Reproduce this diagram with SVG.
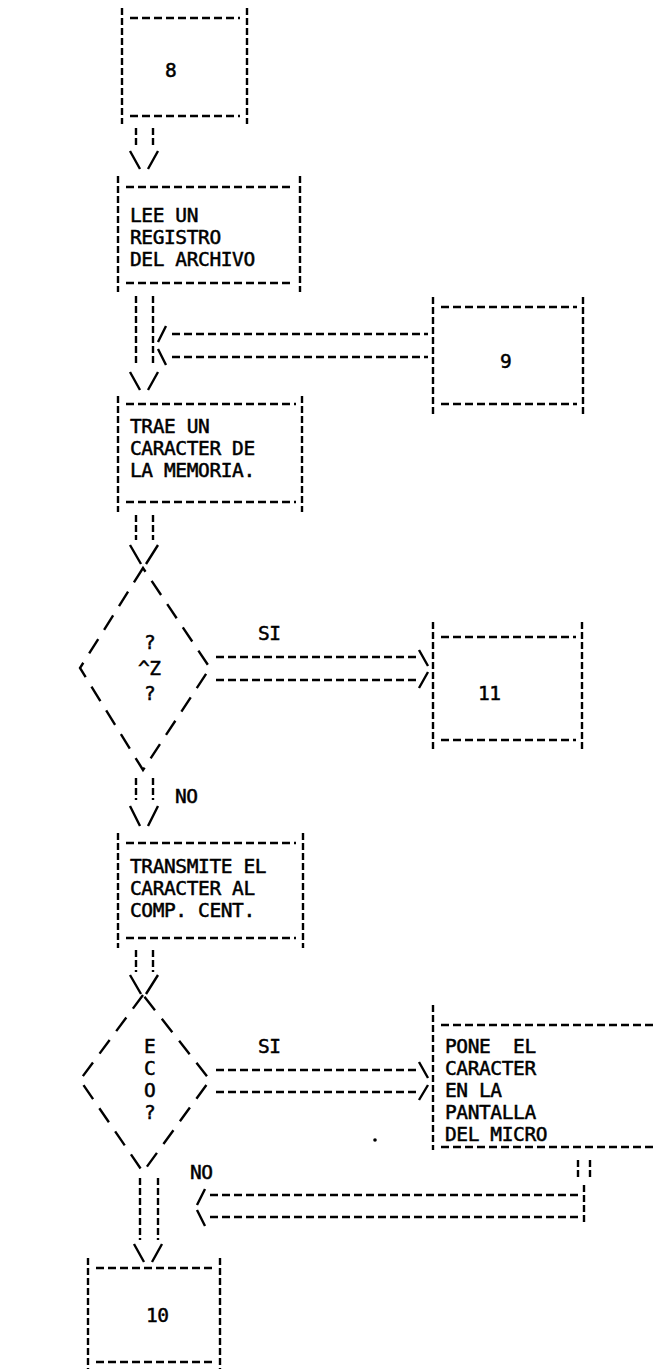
<svg xmlns="http://www.w3.org/2000/svg" width="654" height="1369" viewBox="0 0 654 1369">
<style>
.h{stroke:#000;stroke-width:2.4;fill:none;stroke-dasharray:8 4}
.v{stroke:#000;stroke-width:2.4;fill:none;stroke-dasharray:7 3}
.s{stroke:#000;stroke-width:2.4;fill:none}
.dm{stroke:#000;stroke-width:2.4;fill:none;stroke-dasharray:17 11}
.t{font-family:"DejaVu Sans Mono","Liberation Mono",monospace;font-size:19.5px;fill:#000;stroke:#000;stroke-width:0.5;letter-spacing:-0.4px}
</style>
<rect width="654" height="1369" fill="#fff"/>
<g id="n8">
<path class="v" d="M122 8V124M247 8V124"/><path class="h" d="M130 18H240M130 116H240"/>
<text class="t" x="165" y="77">8</text>
</g>
<g id="nLee">
<path class="v" d="M118 176V292M300 176V292"/><path class="h" d="M126 187H294M126 283H294"/>
<text class="t" x="130" y="222">LEE UN</text>
<text class="t" x="130" y="244">REGISTRO</text>
<text class="t" x="130" y="266">DEL ARCHIVO</text>
</g>
<g id="n9">
<path class="v" d="M433 297V415M583 297V415"/><path class="h" d="M441 307H577M441 404H577"/>
<text class="t" x="500" y="368">9</text>
</g>
<g id="nTrae">
<path class="v" d="M118 396V512M302 396V512"/><path class="h" d="M126 404H296M126 502H296"/>
<text class="t" x="130" y="433">TRAE UN</text>
<text class="t" x="130" y="455">CARACTER DE</text>
<text class="t" x="130" y="477">LA MEMORIA.</text>
</g>
<g id="dZ">
<path class="dm" d="M143 568L80 668L143 770L210 668Z"/>
<text class="t" x="144" y="649">?</text>
<text class="t" x="138" y="675">^Z</text>
<text class="t" x="144" y="700">?</text>
</g>
<g id="n11">
<path class="v" d="M433 622V750M582 622V750"/><path class="h" d="M441 637H576M441 740H576"/>
<text class="t" x="478" y="700">11</text>
</g>
<g id="nTrans">
<path class="v" d="M118 833V948M303 833V948"/><path class="h" d="M126 843H296M126 938H296"/>
<text class="t" x="130" y="873">TRANSMITE EL</text>
<text class="t" x="130" y="895">CARACTER AL</text>
<text class="t" x="130" y="917">COMP. CENT.</text>
</g>
<g id="dEco">
<path class="dm" d="M143 995L80 1080L143 1172L210 1080Z"/>
<text class="t" x="144" y="1053">E</text>
<text class="t" x="144" y="1075">C</text>
<text class="t" x="144" y="1097">O</text>
<text class="t" x="144" y="1119">?</text>
</g>
<g id="nPone">
<path class="v" d="M433 1005V1150"/><path class="h" d="M441 1025H654M441 1147H654"/>
<text class="t" x="445" y="1053" xml:space="preserve">PONE  EL</text>
<text class="t" x="445" y="1075">CARACTER</text>
<text class="t" x="445" y="1097">EN LA</text>
<text class="t" x="445" y="1119">PANTALLA</text>
<text class="t" x="445" y="1141">DEL MICRO</text>
</g>
<g id="n10">
<path class="v" d="M88 1258V1369M220 1258V1369"/><path class="h" d="M96 1268H214M96 1362H214"/>
<text class="t" x="146" y="1322">10</text>
</g>
<g id="connectors">
<path class="v" d="M136 128V146M153 128V146"/><path class="s" d="M130 151L140 169M158 151L148 169"/>
<path class="v" d="M136 296V366M153 296V366"/><path class="s" d="M130 372L140 390M158 372L148 390"/>
<path class="s" d="M158 342L166 326M158 349L166 365"/><path class="h" d="M172 334H428M172 357H428"/>
<path class="v" d="M136 515V540M153 515V540"/><path class="s" d="M130 545L141 564M158 545L146 564"/>
<path class="h" d="M216 657H416M216 680H416"/><path class="s" d="M419 650L428 666M419 688L428 672"/>
<text class="t" x="258" y="640">SI</text>
<path class="v" d="M136 778V800M153 778V800"/><path class="s" d="M130 806L140 826M158 806L148 826"/>
<text class="t" x="175" y="803">NO</text>
<path class="v" d="M136 950V972M153 950V972"/><path class="s" d="M130 975L141 994M158 975L146 994"/>
<path class="h" d="M216 1070H416M216 1092H416"/><path class="s" d="M419 1062L428 1078M419 1100L428 1085"/>
<text class="t" x="258" y="1053">SI</text>
<path class="v" d="M140 1178V1240M158 1178V1240"/><path class="s" d="M134 1244L144 1262M162 1244L152 1262"/>
<text class="t" x="190" y="1179">NO</text>
<path class="v" d="M578 1160V1180M590 1160V1180M584 1185V1222"/>
<path class="s" d="M197 1205L205 1189M197 1210L205 1226"/><path class="h" d="M210 1195H580M210 1217H580"/>
<circle cx="375" cy="1140" r="1.8" fill="#000"/>
</g>
</svg>
